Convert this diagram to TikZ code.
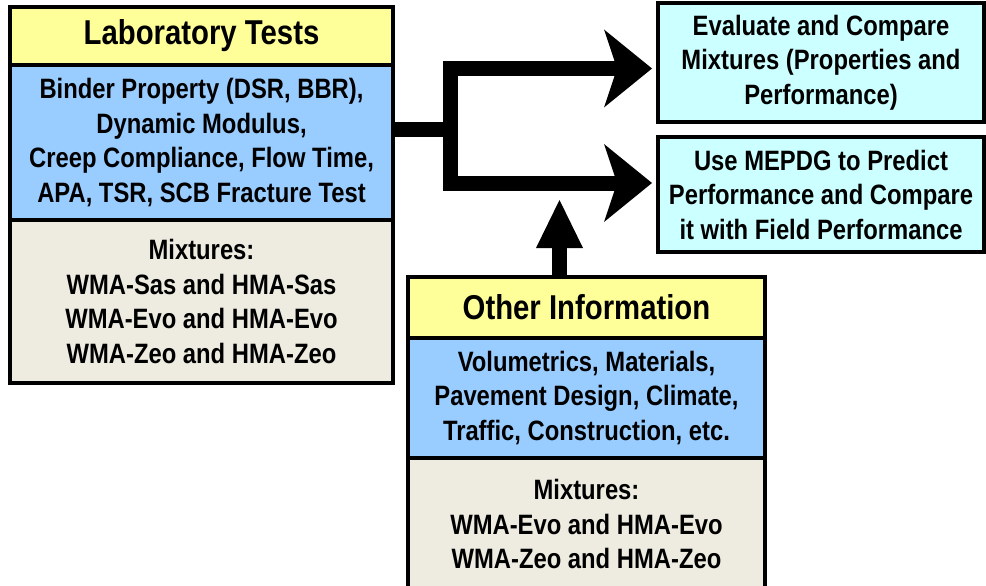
\documentclass[tikz,border=0pt]{standalone}
\usepackage{fontspec}
\setmainfont[FakeStretch=0.85]{Liberation Sans}
\usepackage{tikz}
\usetikzlibrary{arrows.meta,positioning}
\definecolor{titleyellow}{HTML}{FFFF99}
\definecolor{testblue}{HTML}{99CCFF}
\definecolor{mixbeige}{HTML}{EEECE1}
\definecolor{goalcyan}{HTML}{CCFFFF}

\begin{document}
\begin{tikzpicture}[x=1pt, y=-1pt]
% STYLES
\tikzset{%
    panel/.style={%
        rectangle, draw=black, line width=3.5pt, outer sep=0pt, inner sep=2pt,
        align=center, font=\bfseries\fontsize{28}{34.5}\selectfont
    },
    titlebox/.style={panel, fill=titleyellow, font=\bfseries\fontsize{34.5}{40}\selectfont},
    testbox/.style={panel, fill=testblue},
    mixbox/.style={panel, fill=mixbeige},
    goalbox/.style={panel, fill=goalcyan, minimum width=326pt},
    flow/.style={draw=black, line width=15pt},
    forkhead/.style={-{Stealth[length=48pt, width=78pt, inset=13pt, line width=0pt]}},
    uphead/.style={-{Triangle[length=48pt, width=47pt, line width=0pt]}}
}
\useasboundingbox (0,0) rectangle (986,586);
% Draw boxes
\node [titlebox, minimum width=383pt, minimum height=58pt, anchor=north west] (labtitle) at (10,7) {Laboratory Tests};
\node [testbox, minimum width=383pt, minimum height=155pt, below=0pt of labtitle] (labtests) {Binder Property (DSR, BBR),\\ Dynamic Modulus,\\ Creep Compliance, Flow Time,\\ APA, TSR, SCB Fracture Test};
\node [mixbox, minimum width=383pt, minimum height=163pt, below=0pt of labtests] (labmix) {Mixtures:\\ WMA-Sas and HMA-Sas\\ WMA-Evo and HMA-Evo\\ WMA-Zeo and HMA-Zeo};
\node [goalbox, minimum height=119pt, anchor=north west] (evalbox) at (658,3) {Evaluate and Compare\\ Mixtures (Properties and\\ Performance)};
\node [goalbox, minimum height=115pt, below=15pt of evalbox] (mepdgbox) {Use MEPDG to Predict\\ Performance and Compare\\ it with Field Performance};
\node [titlebox, minimum width=357pt, minimum height=61pt, anchor=north west] (othertitle) at (408,277) {Other Information};
\node [testbox, minimum width=357pt, minimum height=120pt, below=0pt of othertitle] (otherdata) {Volumetrics, Materials,\\ Pavement Design, Climate,\\ Traffic, Construction, etc.};
\node [mixbox, minimum width=357pt, minimum height=132pt, below=0pt of otherdata] (othermix) {Mixtures:\\ WMA-Evo and HMA-Evo\\ WMA-Zeo and HMA-Zeo};
% Draw the links between boxes
\coordinate (fork) at (450,129.5);
\coordinate (merge) at (559.5,200);
\draw [flow] (labtests.east |- fork) -- (fork);
\draw [flow, forkhead] (fork) |- ([shift={(-6pt,-6pt)}]evalbox.west);
\draw [flow, forkhead] (fork) |- ([shift={(-6pt,11.5pt)}]mepdgbox.west);
\draw [flow, uphead] (othertitle.north -| merge) -- (merge);
\end{tikzpicture}
\end{document}
